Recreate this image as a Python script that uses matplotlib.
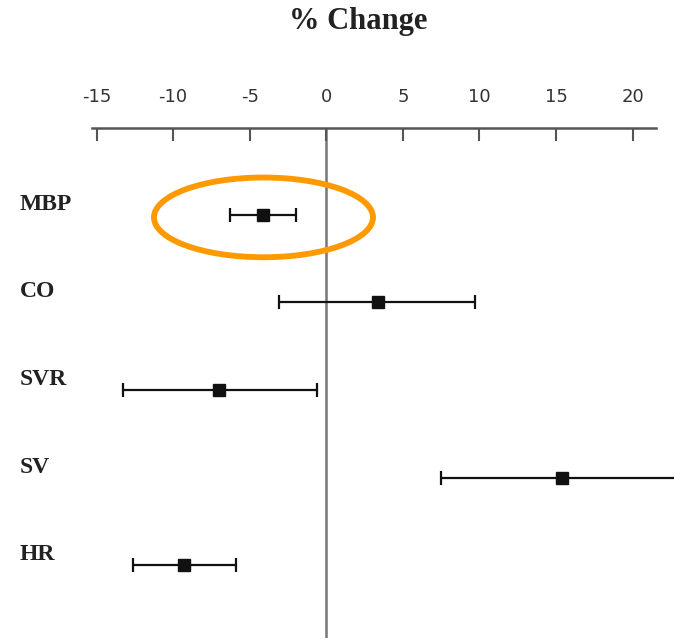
import matplotlib.pyplot as plt
from matplotlib.patches import Ellipse

# %% data
labels = ['MBP', 'CO', 'SVR', 'SV', 'HR']
change = [-4.1, 3.4, -7.0, 15.4, -9.3]
lower = [-6.3, -3.1, -13.3, 7.5, -12.6]
upper = [-2.0, 9.7, -0.6, 23.3, -5.9]
ticks = [-15, -10, -5, 0, 5, 10, 15, 20]

# %% figure
fig = plt.figure(figsize=(6.74, 6.38), dpi=100)
# axes runs from the top axis line (y=128px) to the bottom edge
ax = fig.add_axes([0, 0, 1, (638 - 128) / 638])

ypos = list(range(len(labels)))
xerr = [[c - lo for c, lo in zip(change, lower)],
        [hi - c for c, hi in zip(change, upper)]]
ax.errorbar(change, ypos, xerr=xerr, fmt='s', color='#111111', ms=9,
            elinewidth=1.6, capsize=5, capthick=1.6, zorder=3)

ax.axvline(0, color='#777777', lw=1.8, zorder=1)

ax.set_xlim(-21.3, 22.7)
ax.set_ylim(4.83, -0.99)

for y, lab in zip(ypos, labels):
    ax.text(-20.0, y - 0.12, lab, fontsize=17, fontweight='bold',
            family='Liberation Serif', color='#222222', va='center', ha='left')

# highlight around MBP
ell = Ellipse((-4.1, 0.03), width=14.3, height=0.91, fill=False,
              edgecolor='#FF9900', lw=4.2, zorder=4)
ax.add_patch(ell)

# top axis only
for s in ['left', 'right', 'bottom']:
    ax.spines[s].set_visible(False)
ax.spines['top'].set_bounds(-15.3, 21.5)
ax.spines['top'].set_color('#555555')
ax.spines['top'].set_linewidth(1.8)
ax.xaxis.tick_top()
ax.set_xticks(ticks)
ax.set_xticklabels([str(t) for t in ticks])
ax.tick_params(axis='x', direction='in', length=9, width=1.5, color='#555555',
               pad=16, labelsize=13, labelcolor='#333333')
ax.set_yticks([])

fig.text(358 / 674, 1 - 22 / 638, '% Change', fontsize=22, fontweight='bold',
         family='Liberation Serif', color='#222222', ha='center', va='center')

fig.savefig('out.png', dpi=100)
